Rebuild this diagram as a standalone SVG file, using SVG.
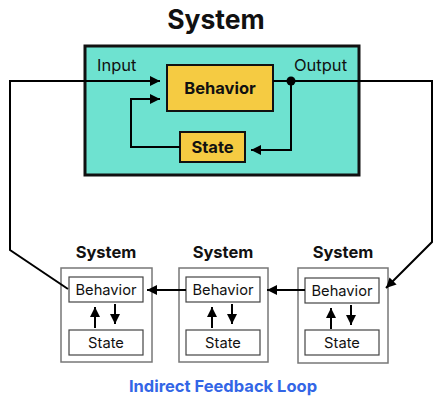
<svg xmlns="http://www.w3.org/2000/svg" width="440" height="401" viewBox="0 0 440 401">
<defs>
<marker id="ah" viewBox="0 0 10 10" refX="10" refY="5" markerWidth="10" markerHeight="10" markerUnits="userSpaceOnUse" orient="auto">
<path d="M0,0 L10,5 L0,10 z" fill="#000"/>
</marker>
<style>
text{font-family:Inter,"Liberation Sans",sans-serif;fill:#111}
.title{font-size:26.5px;font-weight:bold;text-anchor:middle}
.lbl{font-size:16.5px}
.yb{fill:#F5CB42;stroke:#111;stroke-width:2}
.st{font-size:16.5px;font-weight:bold;text-anchor:middle}
.sys{fill:#fff;stroke:#777;stroke-width:1.5}
.inner{fill:#fff;stroke:#444;stroke-width:1.2}
.small{font-size:14.7px;text-anchor:middle}
.stitle{font-size:16.5px;font-weight:bold;text-anchor:middle}
.ln{fill:none;stroke:#000;stroke-width:2}
</style>
</defs>
<text class="title" x="216" y="29">System</text>
<g id="main-system">
<rect x="85" y="46" width="274" height="129" fill="#6EE2D0" stroke="#111" stroke-width="3"/>
<text class="lbl" x="97" y="71">Input</text>
<text class="lbl" x="294" y="71">Output</text>
</g>
<g id="behavior">
<rect class="yb" x="167" y="65" width="106" height="46"/>
<text class="st" x="220" y="94">Behavior</text>
</g>
<g id="state">
<rect class="yb" x="180" y="132" width="65" height="30"/>
<text class="st" x="212.5" y="153">State</text>
</g>
<g id="sys1">
<rect class="sys" x="61" y="268" width="91" height="94"/>
<text class="stitle" x="106" y="258">System</text>
<rect class="inner" x="69" y="277" width="74" height="25"/>
<text class="small" x="106" y="295">Behavior</text>
<rect class="inner" x="69" y="330" width="74" height="25"/>
<text class="small" x="106" y="348">State</text>
</g>
<g id="sys2">
<rect class="sys" x="179" y="268" width="89" height="94"/>
<text class="stitle" x="223" y="258">System</text>
<rect class="inner" x="186" y="277" width="74" height="25"/>
<text class="small" x="223" y="295">Behavior</text>
<rect class="inner" x="186" y="330" width="74" height="25"/>
<text class="small" x="223" y="348">State</text>
</g>
<g id="sys3">
<rect class="sys" x="298" y="268" width="90" height="95"/>
<text class="stitle" x="343" y="258">System</text>
<rect class="inner" x="305" y="278" width="74" height="25"/>
<text class="small" x="342" y="296">Behavior</text>
<rect class="inner" x="305" y="330" width="74" height="25"/>
<text class="small" x="342" y="348">State</text>
</g>
<g id="connectors">
<path class="ln" d="M68,289 L10,250 L10,81 L160,81" marker-end="url(#ah)"/>
<path class="ln" d="M273,81 L432,81 L432,242 L386,288" marker-end="url(#ah)"/>
<path class="ln" d="M291,81 L291,150 L251,150" marker-end="url(#ah)"/>
<path class="ln" d="M180,147 L131,147 L131,99 L160,99" marker-end="url(#ah)"/>
<circle cx="291" cy="81" r="4.5" fill="#000"/>
<path class="ln" d="M305,290 L267,290" marker-end="url(#ah)"/>
<path class="ln" d="M186,290 L147,290" marker-end="url(#ah)"/>
<path class="ln" d="M95,328 L95,307" marker-end="url(#ah)"/>
<path class="ln" d="M115,304 L115,324" marker-end="url(#ah)"/>
<path class="ln" d="M212,328 L212,307" marker-end="url(#ah)"/>
<path class="ln" d="M232,304 L232,324" marker-end="url(#ah)"/>
<path class="ln" d="M331,329 L331,308" marker-end="url(#ah)"/>
<path class="ln" d="M351,305 L351,325" marker-end="url(#ah)"/>
</g>
<text x="223" y="392" style="font-size:16.5px;font-weight:bold;text-anchor:middle;fill:#3366E6">Indirect Feedback Loop</text>
</svg>
